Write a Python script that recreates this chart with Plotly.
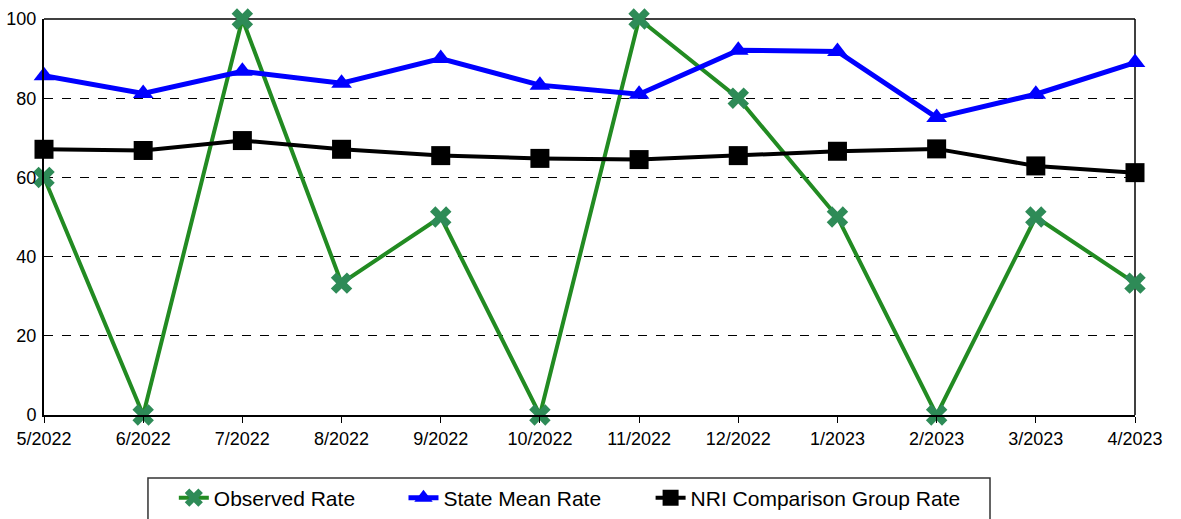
import plotly.graph_objects as go

months = ["5/2022", "6/2022", "7/2022", "8/2022", "9/2022", "10/2022",
          "11/2022", "12/2022", "1/2023", "2/2023", "3/2023", "4/2023"]
observed = [60, 0, 100, 33.3, 50, 0, 100, 80, 50, 0, 50, 33.3]
state_mean = [85.7, 81.2, 86.8, 83.8, 90.0, 83.3, 81.0, 92.1, 91.8, 75.1, 81.0, 89.0]
nri_group = [67.1, 66.8, 69.3, 67.1, 65.5, 64.8, 64.5, 65.5, 66.6, 67.2, 62.9, 61.2]

x_idx = list(range(len(months)))

fig = go.Figure()
fig.add_trace(go.Scatter(
    x=x_idx, y=observed, name="Observed Rate", mode="lines+markers",
    line=dict(color="#228B22", width=4),
    marker=dict(symbol="x", size=19, color="#2E8B57", line=dict(width=0)),
    cliponaxis=False, legend="legend",
))
fig.add_trace(go.Scatter(
    x=x_idx, y=state_mean, name="State Mean Rate", mode="lines+markers",
    line=dict(color="#0000FF", width=5),
    marker=dict(symbol="triangle-up", size=18, color="#0000FF"),
    cliponaxis=False, legend="legend2",
))
fig.add_trace(go.Scatter(
    x=x_idx, y=nri_group, name="NRI Comparison Group Rate", mode="lines+markers",
    line=dict(color="#000000", width=4),
    marker=dict(symbol="square", size=19, color="#000000"),
    cliponaxis=False, legend="legend3",
))

leg_common = dict(
    orientation="h", yanchor="middle", y=-0.2096, xanchor="left",
    bgcolor="rgba(0,0,0,0)", borderwidth=0,
    font=dict(size=21), itemwidth=30,
)

fig.update_layout(
    width=1181, height=519,
    margin=dict(l=44, r=46, t=19, b=104, autoexpand=False),
    paper_bgcolor="white", plot_bgcolor="white",
    font=dict(family="Liberation Sans, Arial, sans-serif", size=18, color="black"),
    showlegend=True,
    legend=dict(x=0.1190, **leg_common),
    legend2=dict(x=0.3295, **leg_common),
    legend3=dict(x=0.5560, **leg_common),
    xaxis=dict(
        range=[0, len(months) - 1], automargin=False,
        tickmode="array", tickvals=x_idx, ticktext=months,
        showgrid=False, zeroline=False,
        showline=True, linecolor="black", linewidth=2, mirror=False,
        ticks="outside", ticklen=6, tickcolor="black",
        tickfont=dict(size=18),
    ),
    yaxis=dict(
        range=[0, 100], tickvals=[0, 20, 40, 60, 80, 100], automargin=False,
        showgrid=True, gridcolor="black", griddash="dash", gridwidth=1,
        zeroline=False,
        showline=True, linecolor="black", linewidth=2,
        ticks="", ticklabelstandoff=2,
        tickfont=dict(size=18),
    ),
)

# top and right frame lines
fig.add_shape(type="line", xref="paper", yref="paper", x0=0, x1=1, y0=1, y1=1,
              line=dict(color="black", width=1.5), layer="below")
fig.add_shape(type="line", xref="paper", yref="paper", x0=1, x1=1, y0=0, y1=1,
              line=dict(color="black", width=1.5), layer="below")
# legend frame (extends past the bottom edge of the page, as in the reference)
fig.add_shape(type="rect", xref="paper", yref="paper", x0=0.0953, x1=0.8671,
              y0=-0.159, y1=-0.30, line=dict(color="#333333", width=1.5),
              fillcolor="rgba(0,0,0,0)", layer="below")

fig.write_html("out.html")
